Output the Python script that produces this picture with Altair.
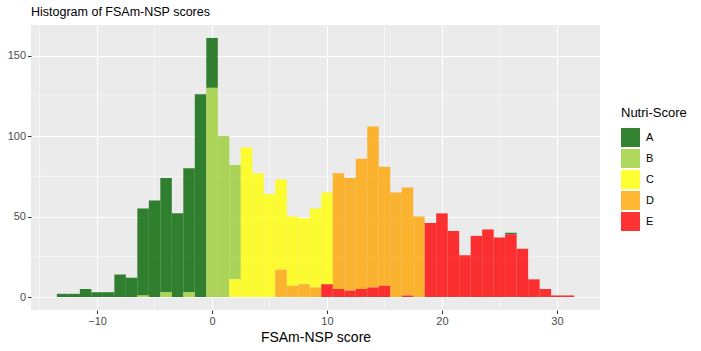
import altair as alt
import pandas as pd

grades = ["A", "B", "C", "D", "E"]
colors = ["#006400", "#9ACD32", "#FFFF00", "#FFA500", "#FF0000"]

a_scores = [-13, -12, -11, -10, -9, -8, -7, -6, -5, -4, -3, -2, -1, 0, 26]
a_counts = [2, 2, 5, 3, 3, 14, 12, 54, 60, 71, 52, 77, 126, 31, 1]
b_scores = [-6, -4, -2, 0, 1, 2]
b_counts = [1, 3, 3, 130, 100, 71]
c_scores = [2, 3, 4, 5, 6, 7, 8, 9, 10]
c_counts = [11, 93, 77, 64, 56, 43, 41, 49, 57]
d_scores = [6, 7, 8, 9, 11, 12, 13, 14, 15, 16, 17, 18]
d_counts = [17, 7, 8, 6, 72, 70, 81, 100, 74, 65, 67, 50]
e_scores = [10, 11, 12, 13, 14, 15, 17, 19, 20, 21, 22, 23, 24, 25, 26, 27, 28, 29, 30, 31]
e_counts = [8, 5, 4, 5, 6, 7, 1, 46, 52, 41, 26, 38, 42, 37, 39, 30, 11, 5, 1, 1]

x_ticks = [-10, 0, 10, 20, 30]
x_minor = [-15, -5, 5, 15, 25]
y_ticks = [0, 50, 100, 150]
y_minor = [25, 75, 125]

rows = []
for g, sc, ct in zip(grades, [a_scores, b_scores, c_scores, d_scores, e_scores],
                     [a_counts, b_counts, c_counts, d_counts, e_counts]):
    for s, c in zip(sc, ct):
        rows.append({"grade": g, "score": s, "n": c})
df = pd.DataFrame(rows)

FONT = "Liberation Sans"
x_scale = alt.Scale(domain=[-15.75, 33.75], nice=False, zero=False)
y_scale = alt.Scale(domain=[-8.05, 169.05], nice=False, zero=False)

x_axis = alt.Axis(values=x_ticks, title="FSAm-NSP score", titleY=31.7,
                  titleBaseline="alphabetic")
y_axis = alt.Axis(values=y_ticks, title="")

vminor = alt.Chart(pd.DataFrame({"v": x_minor})).mark_rule(
    color="white", strokeWidth=0.55).encode(x=alt.X("v:Q", scale=x_scale, axis=x_axis))
hminor = alt.Chart(pd.DataFrame({"v": y_minor})).mark_rule(
    color="white", strokeWidth=0.55).encode(y=alt.Y("v:Q", scale=y_scale, axis=y_axis))

bars = alt.Chart(df).transform_calculate(
    start="datum.score - 0.5", end="datum.score + 0.5"
).transform_stack(
    stack="n", groupby=["score"], as_=["y0", "y1"],
    sort=[alt.SortField("grade", order="descending")]
).mark_bar(opacity=0.8, strokeWidth=0).encode(
    x=alt.X("start:Q", scale=x_scale, axis=x_axis),
    x2="end:Q",
    y=alt.Y("y0:Q", scale=y_scale, axis=y_axis),
    y2="y1:Q",
    color=alt.Color("grade:N", scale=alt.Scale(domain=grades, range=colors),
                    legend=alt.Legend(title="Nutri-Score", orient="none",
                                      legendX=590, legendY=82)),
)

chart = alt.layer(vminor, hminor, bars).properties(
    width=569, height=285,
    background="white",
    title=alt.TitleParams("Histogram of FSAm-NSP scores", anchor="start", frame="group",
                          fontSize=12.5, fontWeight="normal", font=FONT, color="black",
                          offset=6),
    autosize=alt.AutoSizeParams(type="none"),
    padding={"left": 31, "top": 25, "right": 101, "bottom": 41},
).configure_view(fill="#EBEBEB", strokeWidth=0).configure_axis(
    grid=True, gridColor="white", gridWidth=1.1, domain=False,
    tickColor="#333333", tickSize=3.5, tickWidth=1,
    labelColor="#4D4D4D", labelFontSize=11, labelFont=FONT, labelPadding=2,
    titleFont=FONT, titleFontSize=14, titleFontWeight="normal", titleColor="black",
).configure_legend(
    titleFont=FONT, titleFontSize=13, titleFontWeight="normal", titleColor="black",
    labelFont=FONT, labelFontSize=11, labelColor="black",
    symbolType="square", symbolSize=361, symbolStrokeWidth=0, symbolOpacity=0.8,
    rowPadding=2, labelOffset=6, titlePadding=8,
)

chart.save("out.html", embed_options={"renderer": "svg", "actions": False})
